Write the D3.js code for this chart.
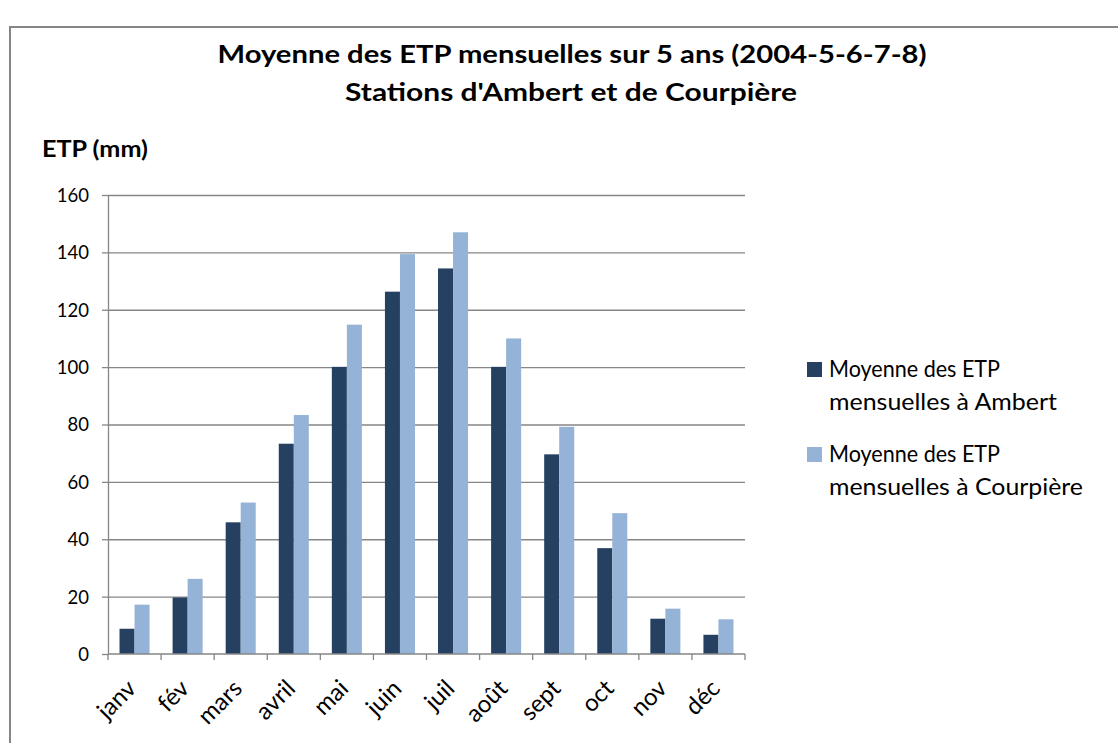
<!DOCTYPE html>
<html>
<head>
<meta charset="utf-8">
<script src="https://cdn.jsdelivr.net/npm/d3@7"></script>
<style>
  body { margin: 0; background: #fff; }
  text { font-family: Lato, "Open Sans", sans-serif; fill: #000; }
</style>
</head>
<body>
<svg id="chart"></svg>
<script>
// Data
const months = ["janv", "fév", "mars", "avril", "mai", "juin", "juil", "août", "sept", "oct", "nov", "déc"];
const seriesNames = ["Moyenne des ETP mensuelles à Ambert", "Moyenne des ETP mensuelles à Courpière"];
const ambert = [8.8, 19.7, 45.9, 73.3, 100.1, 126.3, 134.4, 100.1, 69.6, 36.9, 12.3, 6.7];
const courpiere = [17.2, 26.2, 52.8, 83.3, 114.8, 139.4, 147, 110, 79.2, 49.1, 15.8, 12.1];
const yTicks = [0, 20, 40, 60, 80, 100, 120, 140, 160];
const colors = ["#254061", "#95b3d7"];

const svgWidth = 1118;
const svgHeight = 743;
const plot = { left: 108, right: 745, top: 195, bottom: 654 };

const svg = d3.select("#chart")
    .attr("width", svgWidth)
    .attr("height", svgHeight);

// Chart area border
svg.append("rect")
    .attr("x", 10).attr("y", 27)
    .attr("width", 1120).attr("height", 730)
    .attr("fill", "none")
    .attr("stroke", "#868686")
    .attr("stroke-width", 2);

// Titles
svg.append("text")
    .attr("x", 572).attr("y", 63)
    .attr("text-anchor", "middle")
    .attr("font-size", 25).attr("font-weight", "bold")
    .attr("textLength", 709).attr("lengthAdjust", "spacingAndGlyphs")
    .text("Moyenne des ETP mensuelles sur 5 ans (2004-5-6-7-8)");

svg.append("text")
    .attr("x", 571).attr("y", 101)
    .attr("text-anchor", "middle")
    .attr("font-size", 25).attr("font-weight", "bold")
    .attr("textLength", 452).attr("lengthAdjust", "spacingAndGlyphs")
    .text("Stations d'Ambert et de Courpière");

svg.append("text")
    .attr("x", 42).attr("y", 157)
    .attr("font-size", 22).attr("font-weight", "bold")
    .attr("textLength", 106).attr("lengthAdjust", "spacingAndGlyphs")
    .text("ETP (mm)");

// Scales
const x0 = d3.scaleBand()
    .domain(months)
    .range([plot.left, plot.right])
    .paddingInner(0.434)
    .paddingOuter(0.217);

const x1 = d3.scaleBand()
    .domain([0, 1])
    .range([0, x0.bandwidth()]);

const yScale = d3.scaleLinear()
    .domain([0, 160])
    .range([plot.bottom, plot.top]);

// Gridlines
svg.append("g")
    .attr("transform", `translate(${plot.left},0)`)
    .call(d3.axisLeft(yScale).tickValues(yTicks.slice(1)).tickSize(-(plot.right - plot.left)).tickFormat(""))
    .call(g => g.select(".domain").remove())
    .selectAll("line")
    .attr("stroke", "#868686")
    .attr("stroke-width", 1.3);

// Bars
const rows = months.map((m, i) => ({ month: m, values: [ambert[i], courpiere[i]] }));

svg.append("g")
    .selectAll("g")
    .data(rows)
    .enter().append("g")
    .attr("transform", d => `translate(${x0(d.month)},0)`)
    .selectAll("rect")
    .data(d => d.values.map((v, k) => ({ k, v })))
    .enter().append("rect")
    .attr("x", d => x1(d.k))
    .attr("y", d => yScale(d.v))
    .attr("width", x1.bandwidth())
    .attr("height", d => yScale(0) - yScale(d.v))
    .attr("fill", d => colors[d.k]);

// Y axis
const yAxis = svg.append("g")
    .attr("transform", `translate(${plot.left},0)`)
    .call(d3.axisLeft(yScale).tickValues(yTicks).tickSize(6).tickSizeOuter(0).tickPadding(13));
yAxis.selectAll("line, path").attr("stroke", "#868686").attr("stroke-width", 1.3);
yAxis.selectAll("text")
    .attr("font-size", 18.5)
    .attr("font-family", "Lato, sans-serif")
    .attr("fill", "#000")
    .attr("dy", "0.35em");

// X axis: domain line + boundary ticks
const xAxis = svg.append("g")
    .attr("transform", `translate(0,${plot.bottom})`);
xAxis.append("line")
    .attr("x1", plot.left).attr("x2", plot.right)
    .attr("stroke", "#868686").attr("stroke-width", 1.3);
xAxis.selectAll(".bt")
    .data(d3.range(months.length + 1))
    .enter().append("line")
    .attr("class", "bt")
    .attr("x1", i => plot.left + i * x0.step())
    .attr("x2", i => plot.left + i * x0.step())
    .attr("y1", 0).attr("y2", 6)
    .attr("stroke", "#868686").attr("stroke-width", 1.3);

xAxis.selectAll(".lbl")
    .data(months)
    .enter().append("text")
    .attr("class", "lbl")
    .attr("font-size", 24)
    .attr("text-anchor", "end")
    .attr("transform", d => `translate(${x0(d) + x0.bandwidth() / 2 + 3},${36}) rotate(-45)`)
    .text(d => d);

// Legend
const legend = svg.append("g");
const legendY = [362, 447];
seriesNames.forEach((name, k) => {
    const g = legend.append("g").attr("transform", `translate(807,${legendY[k]})`);
    g.append("rect")
        .attr("width", 15).attr("height", 15)
        .attr("fill", colors[k]);
    const parts = ["Moyenne des ETP", name.replace("Moyenne des ETP ", "")];
    const widths = [171, k === 0 ? 228 : 254];
    parts.forEach((p, j) => {
        g.append("text")
            .attr("x", 22).attr("y", 15 + j * 33)
            .attr("font-size", 23)
            .attr("textLength", widths[j]).attr("lengthAdjust", "spacingAndGlyphs")
            .text(p);
    });
});
</script>
</body>
</html>
